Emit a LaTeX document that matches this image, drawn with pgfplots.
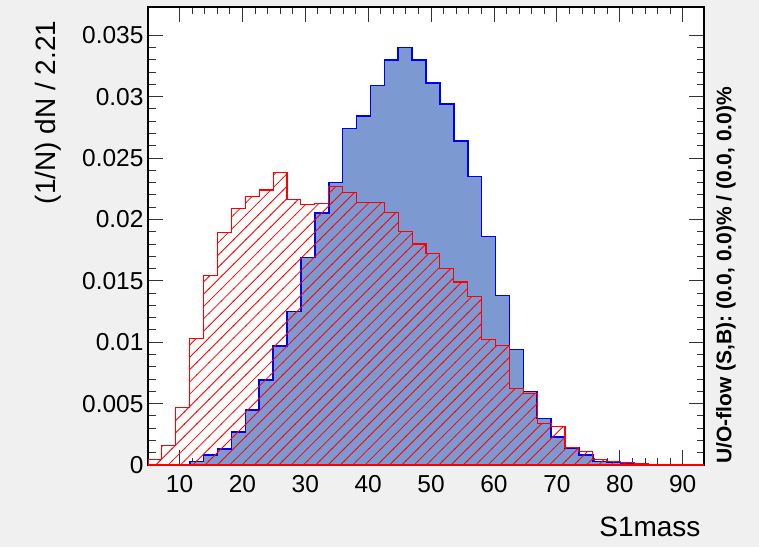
\documentclass[border=0pt]{standalone}
\usepackage{pgfplots}
\pgfplotsset{compat=1.18}
\usepackage{pgfplotstable}
\usepackage{fontspec}
\setmainfont{Liberation Sans}
\usetikzlibrary{patterns}
\definecolor{bggray}{RGB}{240,240,240}
\definecolor{sigfill}{HTML}{7D99D1}
\definecolor{sigline}{HTML}{0000EE}
\definecolor{bkgline}{HTML}{FF0000}

\pgfdeclarepatterninherentlycolored{roothatch}
  {\pgfqpoint{-1pt}{-1pt}}{\pgfqpoint{13.3pt}{13.3pt}}{\pgfqpoint{12.3pt}{12.3pt}}
  {\pgfsetcolor{bkgline}\pgfsetlinewidth{0.8pt}
   \pgfpathmoveto{\pgfqpoint{-0.5pt}{-0.5pt}}\pgfpathlineto{\pgfqpoint{12.8pt}{12.8pt}}\pgfusepath{stroke}}

\pgfplotstableread{
x      sig     bkg
4.99   0       0.00045
7.20   0       0.0016
9.41   0       0.0047
11.62  0.0003  0.0103
13.83  0.0008  0.0154
16.04  0.0013  0.0189
18.25  0.0027  0.0209
20.46  0.0045  0.0219
22.67  0.0069  0.0224
24.88  0.0097  0.0238
27.09  0.0125  0.0216
29.30  0.0169  0.0212
31.51  0.0205  0.0213
33.72  0.0230  0.0227
35.93  0.0274  0.0222
38.14  0.0284  0.0214
40.35  0.0309  0.0214
42.56  0.0330  0.0206
44.77  0.0340  0.0190
46.98  0.0330  0.0180
49.19  0.0311  0.0172
51.40  0.0294  0.0160
53.61  0.0264  0.0149
55.82  0.0235  0.0137
58.03  0.0186  0.0102
60.24  0.0138  0.0097
62.45  0.0094  0.0062
64.66  0.0060  0.0058
66.87  0.0038  0.0034
69.08  0.0023  0.0031
71.29  0.0014  0.0014
73.50  0.0008  0.0011
75.71  0.0003  0.00045
77.92  0.0002  0.00025
80.13  0.0001  0.0002
82.34  0       0.0001
84.55  0       0
86.76  0       0
88.97  0       0
91.18  0       0
93.39  0       0
}\histdata

\begin{document}
\begin{tikzpicture}
\fill[bggray] (0,0) rectangle (759pt,547pt);
\begin{axis}[
  at={(148pt,82pt)}, anchor=south west,
  scale only axis, width=556pt, height=458pt,
  xmin=4.99, xmax=93.39, ymin=0, ymax=0.0373,
  axis background/.style={fill=white},
  axis line style={black, line width=1.1pt},
  xtick={10,20,30,40,50,60,70,80,90},
  xticklabels={10,20,30,40,50,60,70,80,90},
  minor x tick num=4,
  ytick={0,0.005,0.01,0.015,0.02,0.025,0.03,0.035},
  yticklabels={0,0.005,0.01,0.015,0.02,0.025,0.03,0.035},
  minor y tick num=4,
  major tick length=15pt, minor tick length=7.5pt,
  every tick/.style={black!80, line width=0.9pt},
  tick pos=both, xticklabel pos=lower, yticklabel pos=left,
  tick label style={font=\fontsize{24.5}{24.5}\selectfont},
  xticklabel style={yshift=-7pt},
  yticklabel style={xshift=-1pt},
  xlabel={S1mass},
  ylabel={(1/N) dN / 2.21},
  label style={font=\fontsize{28}{28}\selectfont},
  xlabel style={at={(rel axis cs:1,-0.1354)}, anchor=east},
  ylabel style={at={(rel axis cs:-0.18,0.978)}, anchor=east},
  clip=true,
]
\addplot[const plot, draw=sigline, line width=1.6pt, fill=sigfill] table[x=x, y=sig] {\histdata} \closedcycle;
\addplot[const plot, draw=bkgline, line width=1.1pt, pattern=roothatch] table[x=x, y=bkg] {\histdata} \closedcycle;
\end{axis}
\node[rotate=90, anchor=west, font=\bfseries\fontsize{21}{21}\selectfont, inner sep=0pt] at (726pt,83pt) {U/O-flow (S,B): (0.0, 0.0)\% / (0.0, 0.0)\%};
\pgfresetboundingbox
\useasboundingbox (0,0) rectangle (759pt,547pt);
\end{tikzpicture}
\end{document}
